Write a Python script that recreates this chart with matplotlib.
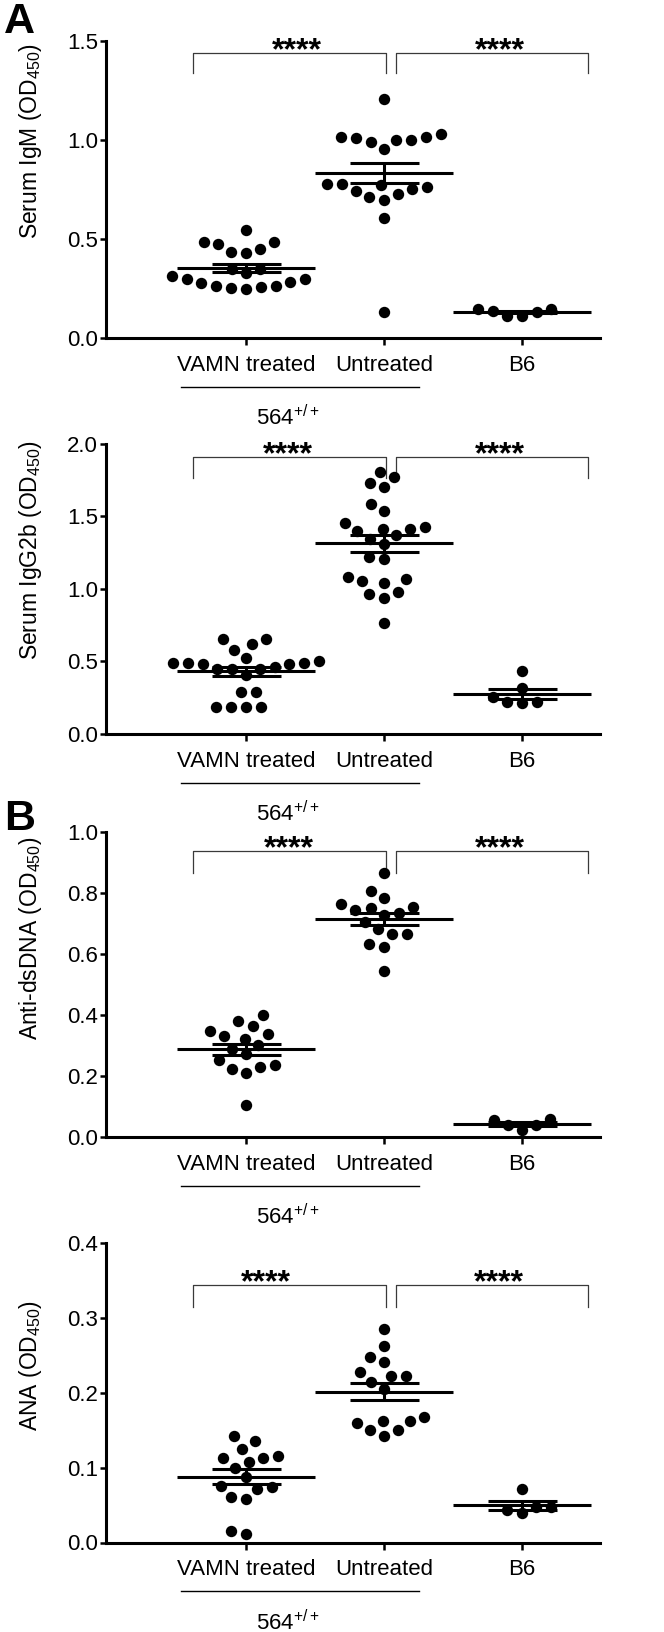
import numpy as np
import matplotlib.pyplot as plt
import matplotlib.transforms as mtransforms

plt.rcParams['font.family'] = ['Liberation Sans', 'DejaVu Sans']
plt.rcParams['mathtext.fontset'] = 'custom'
plt.rcParams['mathtext.rm'] = 'Liberation Sans'
plt.rcParams['mathtext.default'] = 'regular'

groups = ['VAMN treated', 'Untreated', 'B6']

# Serum IgM (OD450)
igm_vamn = [0.544, 0.482, 0.447, 0.427, 0.432, 0.472, 0.485, 0.35, 0.35, 0.326,
            0.297, 0.282, 0.264, 0.255, 0.247, 0.252, 0.262, 0.276, 0.296, 0.313]
igm_untreated = [1.205, 1.027, 1.015, 0.998, 0.991, 0.956, 0.998, 1.011, 1.015, 0.775,
                 0.770, 0.753, 0.729, 0.696, 0.709, 0.742, 0.760, 0.775, 0.603, 0.133]
igm_b6 = [0.146, 0.130, 0.111, 0.112, 0.138, 0.148]

# Serum IgG2b (OD450)
igg_vamn = [0.618, 0.653, 0.653, 0.582, 0.522, 0.492, 0.487, 0.480, 0.446, 0.446, 0.407,
            0.446, 0.464, 0.480, 0.487, 0.506, 0.287, 0.287, 0.189, 0.189, 0.189, 0.189]
igg_untreated = [1.805, 1.775, 1.729, 1.701, 1.586, 1.538, 1.416, 1.402, 1.457, 1.416, 1.430, 1.343,
                 1.372, 1.313, 1.218, 1.209, 1.080, 1.044, 1.053, 1.067, 0.979, 0.963, 0.940, 0.766]
igg_b6 = [0.434, 0.320, 0.218, 0.211, 0.218, 0.253]

# Anti-dsDNA (OD450)
dsdna_vamn = [0.399, 0.364, 0.381, 0.339, 0.331, 0.346, 0.322, 0.301,
              0.288, 0.273, 0.251, 0.237, 0.229, 0.224, 0.210, 0.104]
dsdna_untreated = [0.867, 0.805, 0.782, 0.764, 0.751, 0.743, 0.754, 0.727,
                   0.734, 0.705, 0.681, 0.665, 0.665, 0.632, 0.623, 0.544]
dsdna_b6 = [0.058, 0.040, 0.024, 0.038, 0.055]

# ANA (OD450)
ana_vamn = [0.142, 0.136, 0.125, 0.113, 0.107, 0.113, 0.115, 0.100,
            0.087, 0.074, 0.072, 0.076, 0.061, 0.058, 0.011, 0.016]
ana_untreated = [0.285, 0.263, 0.248, 0.241, 0.223, 0.228, 0.223, 0.214,
                 0.205, 0.167, 0.162, 0.150, 0.142, 0.150, 0.159, 0.162]
ana_b6 = [0.072, 0.047, 0.039, 0.043, 0.047]

panels = [
    dict(data=[igm_vamn, igm_untreated, igm_b6], ylabel='Serum IgM (OD$_{450}$)',
         ymax=1.5, step=0.5, box=(40.7, 338), lab_y=0.662,
         bar=(1.438, 1.336), stars_x=(0.367, 1.84)),
    dict(data=[igg_vamn, igg_untreated, igg_b6], ylabel='Serum IgG2b (OD$_{450}$)',
         ymax=2.0, step=0.5, box=(444, 734), lab_y=0.636,
         bar=(1.912, 1.763), stars_x=(0.302, 1.84)),
    dict(data=[dsdna_vamn, dsdna_untreated, dsdna_b6], ylabel='Anti-dsDNA (OD$_{450}$)',
         ymax=1.0, step=0.2, box=(832, 1137), lab_y=0.65,
         bar=(0.937, 0.867), stars_x=(0.309, 1.84)),
    dict(data=[ana_vamn, ana_untreated, ana_b6], ylabel='ANA (OD$_{450}$)',
         ymax=0.4, step=0.1, box=(1243, 1542.5), lab_y=0.59,
         bar=(0.3433, 0.3144), stars_x=(0.147, 1.833)),
]

W, H = 664, 1632
fig = plt.figure(figsize=(W / 100, H / 100), dpi=100)


def swarm(vals, ax, center, dist):
    # simple beeswarm: nearest free x offset (in px) for each point, bottom up
    tr = ax.transData
    ypx = tr.transform(np.column_stack([np.full(len(vals), center), vals]))[:, 1]
    unit = tr.transform((1, 0))[0] - tr.transform((0, 0))[0]
    offs = np.zeros(len(vals))
    placed = []
    for i in np.argsort(ypx):
        y = ypx[i]
        near = [(px, py) for px, py in placed if abs(py - y) < dist]
        cands = [0.0]
        for px, py in near:
            dx = np.sqrt(dist ** 2 - (py - y) ** 2)
            cands += [px - dx, px + dx]
        cands.sort(key=lambda c: (abs(c), c))
        for c in cands:
            if all((c - px) ** 2 + (y - py) ** 2 >= dist ** 2 - 1e-6 for px, py in near):
                offs[i] = c
                break
        placed.append((offs[i], y))
    return offs / unit


for p in panels:
    top, bot = p['box']
    ax = fig.add_axes([106 / W, 1 - bot / H, 494 / W, (bot - top) / H])
    ax.set_xlim(-1.0145, 2.565)
    ax.set_ylim(0, p['ymax'])
    ax.set_yticks(np.arange(0, p['ymax'] + 1e-9, p['step']))
    ax.yaxis.set_major_formatter(plt.FormatStrFormatter('%.1f'))
    ax.set_xticks([0, 1, 2], groups)
    for s in ['top', 'right']:
        ax.spines[s].set_visible(False)
    for s in ['left', 'bottom']:
        ax.spines[s].set_linewidth(2.2)
    ax.tick_params(axis='both', direction='out', width=1.8, labelsize=16)
    ax.tick_params(axis='y', length=4.3, pad=1.5)
    ax.tick_params(axis='x', length=5, pad=7)
    ax.set_ylabel(p['ylabel'], fontsize=16.5)
    ax.yaxis.set_label_coords(-0.125, p['lab_y'])

    for i, v in enumerate(p['data']):
        v = np.asarray(v)
        offs = swarm(v, ax, i, 15)
        ax.scatter(i + offs, v, s=8.2 ** 2, c='k', lw=0, zorder=3, clip_on=False)
        m = v.mean()
        sem = v.std(ddof=1) / np.sqrt(len(v))
        ax.hlines(m, i - 0.5, i + 0.5, color='k', lw=2.2, zorder=4)
        ax.hlines([m - sem, m + sem], i - 0.25, i + 0.25, color='k', lw=2.2, zorder=4)
        ax.vlines(i, m - sem, m + sem, color='k', lw=2.2, zorder=4)

    ybar, ydrop = p['bar']
    for x0, x1, sx in [(-0.384, 1.011, p['stars_x'][0]), (1.085, 2.476, p['stars_x'][1])]:
        ax.plot([x0, x0, x1, x1], [ydrop, ybar, ybar, ydrop], color='#3a3a3a', lw=0.9,
                clip_on=False)
        ax.annotate('****', xy=(sx, ybar), xytext=(0, -4.5), textcoords='offset points',
                    ha='center', va='baseline', fontsize=23, fontweight='bold')

    # genotype grouping under first two groups
    hpx = bot - top
    trans = mtransforms.blended_transform_factory(ax.transData, ax.transAxes)
    ax.plot([-0.471, 1.256], [-48.8 / hpx] * 2, transform=trans, color='k', lw=1,
            clip_on=False)
    ax.text(0.304, -87.5 / hpx, '564$^{+/+}$', transform=trans, ha='center',
            va='baseline', fontsize=16)

fig.text(4 / W, 1 - 33 / H, 'A', fontsize=31, fontweight='bold', va='baseline')
fig.text(4 / W, 1 - 830 / H, 'B', fontsize=31, fontweight='bold', va='baseline')

fig.savefig('out.png', dpi=100)
